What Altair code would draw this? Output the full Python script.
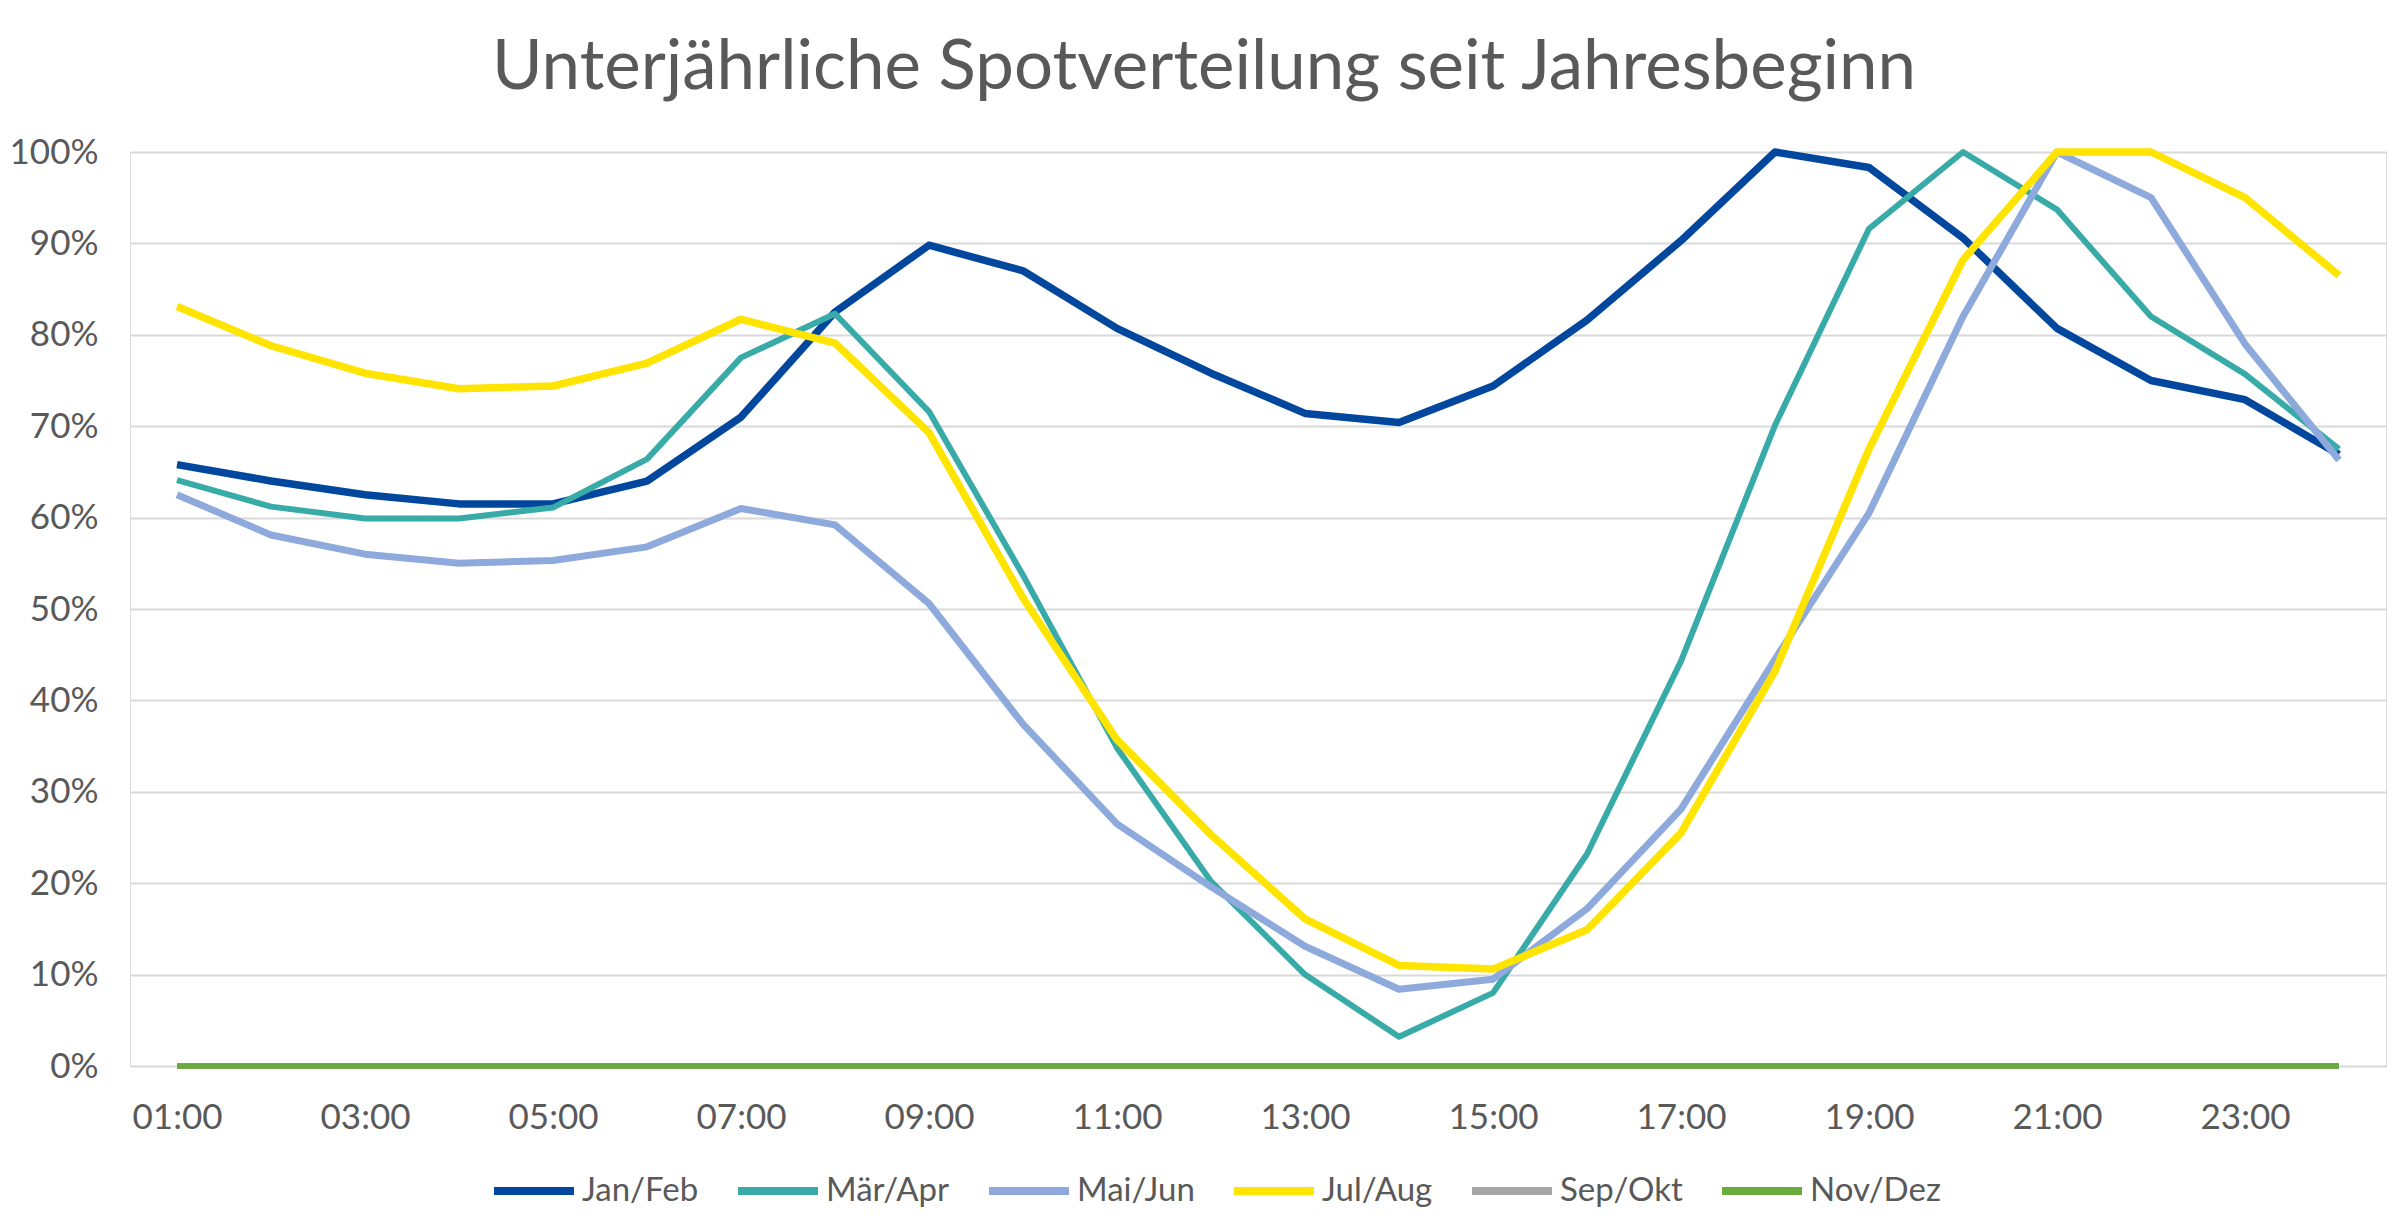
import altair as alt
import pandas as pd

hours = ["01:00", "02:00", "03:00", "04:00", "05:00", "06:00", "07:00", "08:00",
         "09:00", "10:00", "11:00", "12:00", "13:00", "14:00", "15:00", "16:00",
         "17:00", "18:00", "19:00", "20:00", "21:00", "22:00", "23:00", "24:00"]
hour_labels = ["01:00", "03:00", "05:00", "07:00", "09:00", "11:00",
               "13:00", "15:00", "17:00", "19:00", "21:00", "23:00"]
y_ticks = [0, 0.1, 0.2, 0.3, 0.4, 0.5, 0.6, 0.7, 0.8, 0.9, 1.0]

series_names = ["Jan/Feb", "Mär/Apr", "Mai/Jun", "Jul/Aug", "Sep/Okt", "Nov/Dez"]
series_colors = ["#00479D", "#38ABA8", "#8EA9DB", "#FFE400", "#A5A5A5", "#6AAB3E"]

jan_feb = [65.8, 64.0, 62.5, 61.5, 61.5, 64.0, 71.0, 82.5, 89.8, 87.0, 80.7, 75.8,
           71.4, 70.4, 74.4, 81.6, 90.3, 100.0, 98.3, 90.6, 80.7, 75.0, 72.9, 66.9]
mar_apr = [64.1, 61.2, 59.9, 59.9, 61.1, 66.4, 77.5, 82.3, 71.6, 53.7, 34.8, 20.2,
           10.0, 3.2, 8.0, 23.2, 44.3, 70.1, 91.6, 100.0, 93.7, 82.0, 75.7, 67.5]
mai_jun = [62.5, 58.1, 56.0, 55.0, 55.3, 56.8, 61.0, 59.2, 50.6, 37.4, 26.5, 19.6,
           13.1, 8.4, 9.5, 17.2, 28.1, 44.5, 60.5, 82.0, 100.0, 95.0, 79.0, 66.3]
jul_aug = [83.1, 78.8, 75.8, 74.1, 74.4, 76.9, 81.7, 79.1, 69.3, 51.2, 35.7, 25.3,
           16.1, 11.0, 10.6, 14.9, 25.5, 43.2, 67.5, 88.2, 100.0, 100.0, 95.0, 86.5]
sep_okt = [0, 0, 0, 0, 0, 0, 0, 0, 0, 0, 0, 0,
           0, 0, 0, 0, 0, 0, 0, 0, 0, 0, 0, 0]
nov_dez = [0, 0, 0, 0, 0, 0, 0, 0, 0, 0, 0, 0,
           0, 0, 0, 0, 0, 0, 0, 0, 0, 0, 0, 0]

series_values = [jan_feb, mar_apr, mai_jun, jul_aug, sep_okt, nov_dez]
series_widths = [7.5, 6.0, 7.0, 7.5, 6.0, 5.5]

rows = []
for name, vals in zip(series_names, series_values):
    for h, v in zip(hours, vals):
        rows.append({"Stunde": h, "Serie": name, "Wert": v / 100.0})
df = pd.DataFrame(rows)

FONT = "Lato"
TXT = "#595959"

color_scale = alt.Scale(domain=series_names, range=series_colors)

base = alt.Chart(df).encode(
    x=alt.X("Stunde:O", sort=hours,
            scale=alt.Scale(type="point", padding=0.5),
            axis=alt.Axis(values=hour_labels, labelAngle=0, title=None, grid=False,
                          ticks=False, domain=False, labelPadding=34,
                          labelFontSize=35, labelFont=FONT, labelColor=TXT,
                          labelBaseline="top")),
    y=alt.Y("Wert:Q", scale=alt.Scale(domain=[0, 1], nice=False, zero=True),
            axis=alt.Axis(values=y_ticks, format=".0%", title=None, ticks=False,
                          domain=False, labelPadding=32, labelFontSize=35,
                          labelFont=FONT, labelColor=TXT, grid=True,
                          gridColor="#D9D9D9", gridWidth=2)),
    color=alt.Color("Serie:N", scale=color_scale,
                    legend=alt.Legend(title=None, orient="none", legendX=360,
                                      legendY=995, direction="horizontal",
                                      gridAlign="each",
                                      symbolType="stroke", symbolSize=6400,
                                      symbolStrokeWidth=8, labelFontSize=33,
                                      labelFont=FONT, labelColor=TXT,
                                      labelOffset=4, columnPadding=23,
                                      padding=0)),
)

layers = []
for name, w in zip(series_names, series_widths):
    layers.append(
        base.transform_filter(alt.datum.Serie == name)
        .mark_line(strokeWidth=w, strokeJoin="round", strokeCap="butt")
    )

chart = alt.layer(*layers).properties(
    width=2256,
    height=914,
    autosize=alt.AutoSizeParams(type="none"),
    padding={"left": 122, "top": 144, "right": 6, "bottom": 153},
    title=alt.TitleParams(
        "Unterjährliche Spotverteilung seit Jahresbeginn",
        font=FONT, fontSize=69, fontWeight="normal", color=TXT,
        anchor="middle", frame="group", offset=63, baseline="alphabetic",
        dx=-54, dy=86,
    ),
).configure_view(stroke=None).configure(background="white")

chart.save("out.html", embed_options={"renderer": "svg", "actions": False})
